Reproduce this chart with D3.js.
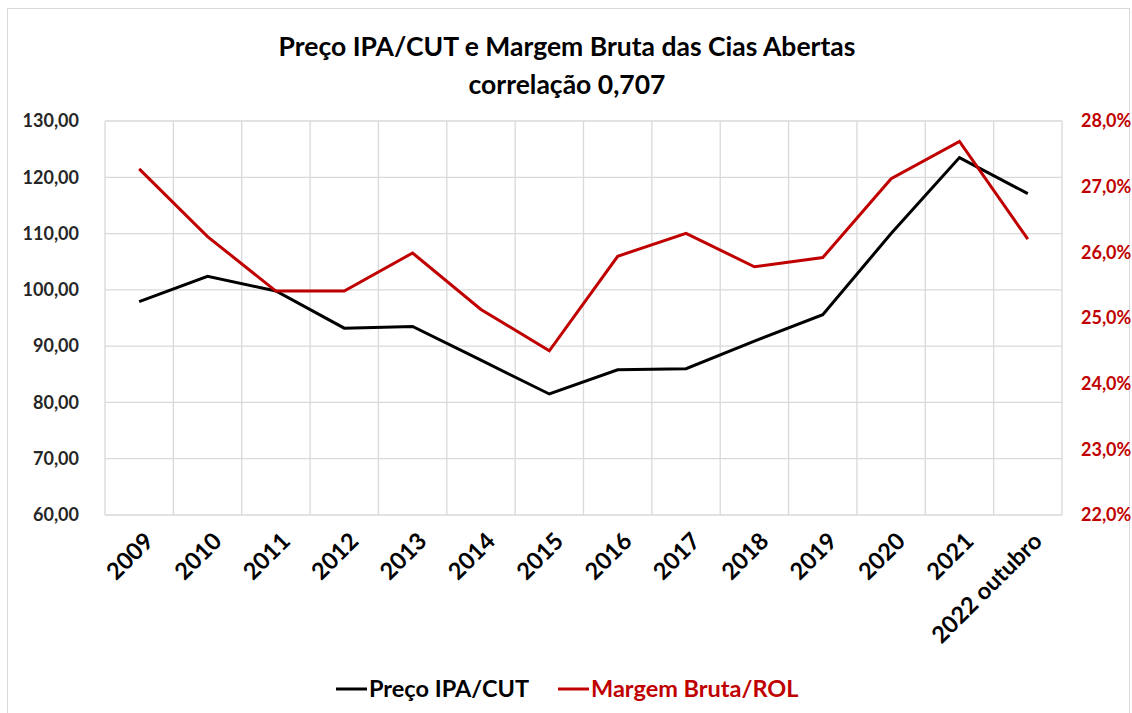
<!DOCTYPE html>
<html>
<head>
<meta charset="utf-8">
<script src="https://d3js.org/d3.v7.min.js"></script>
<style>
  body { margin: 0; background: #fff; }
  text { font-family: Lato, "Open Sans", sans-serif; font-weight: bold; }
</style>
</head>
<body>
<script>
// categories and series
var years = ["2009", "2010", "2011", "2012", "2013", "2014", "2015", "2016", "2017", "2018", "2019", "2020", "2021", "2022 outubro"];
var preco = [97.9, 102.4, 99.8, 93.2, 93.5, 87.5, 81.5, 85.8, 86.0, 90.9, 95.6, 110.0, 123.5, 117.1];
var margem = [27.27, 26.24, 25.41, 25.41, 25.99, 25.13, 24.50, 25.94, 26.29, 25.78, 25.92, 27.12, 27.69, 26.20];
var leftTicks = [60, 70, 80, 90, 100, 110, 120, 130];
var rightTicks = [22, 23, 24, 25, 26, 27, 28];

var W = 1132, H = 713;
var pLeft = 105, pRight = 1062, pTop = 121, pBottom = 515;
var red = "#c00000";

var svg = d3.select("body").append("svg")
  .attr("width", W)
  .attr("height", H);

// chart frame
svg.append("rect")
  .attr("x", 7.5).attr("y", 8.5)
  .attr("width", 1122).attr("height", 730)
  .attr("fill", "none")
  .attr("stroke", "#d9d9d9");

var x = d3.scaleBand().domain(years).range([pLeft, pRight]);
var yL = d3.scaleLinear().domain([60, 130]).range([pBottom, pTop]);
var yR = d3.scaleLinear().domain([22, 28]).range([pBottom, pTop]);

var fmtL = function(d) { return d3.format(".2f")(d).replace(".", ","); };
var fmtR = function(d) { return d3.format(".1f")(d).replace(".", ",") + "%"; };

// horizontal grid
svg.append("g").selectAll("line")
  .data(leftTicks)
  .enter().append("line")
  .attr("x1", pLeft).attr("x2", pRight)
  .attr("y1", function(d) { return yL(d); })
  .attr("y2", function(d) { return yL(d); })
  .attr("stroke", "#d9d9d9").attr("stroke-width", 1.3);

// vertical grid at category edges
var edges = years.map(function(d) { return x(d); }).concat([pRight]);
svg.append("g").selectAll("line")
  .data(edges)
  .enter().append("line")
  .attr("x1", function(d) { return d; })
  .attr("x2", function(d) { return d; })
  .attr("y1", pTop).attr("y2", pBottom)
  .attr("stroke", "#d9d9d9").attr("stroke-width", 1.3);

// left axis
var axL = svg.append("g")
  .attr("transform", "translate(" + (pLeft - 23) + ",0)")
  .call(d3.axisLeft(yL).tickValues(leftTicks).tickFormat(fmtL).tickSize(0));
axL.select(".domain").remove();
axL.selectAll("text").attr("font-size", 18).attr("fill", "#262626");

// right axis
var axR = svg.append("g")
  .attr("transform", "translate(" + (pRight + 16) + ",0)")
  .call(d3.axisRight(yR).tickValues(rightTicks).tickFormat(fmtR).tickSize(0));
axR.select(".domain").remove();
axR.selectAll("text").attr("font-size", 18).attr("fill", red);

// x labels, rotated
svg.append("g").selectAll("text")
  .data(years)
  .enter().append("text")
  .attr("transform", function(d) {
    return "translate(" + (x(d) + x.bandwidth() / 2 + 4) + "," + (pBottom + 16) + ") rotate(-45)";
  })
  .attr("text-anchor", "end")
  .attr("dy", "0.7em")
  .attr("font-size", 23.5)
  .attr("fill", "#000")
  .text(function(d) { return d; });

var cx = function(d, i) { return x(years[i]) + x.bandwidth() / 2; };

var lineL = d3.line().x(cx).y(function(d) { return yL(d); });
var lineR = d3.line().x(cx).y(function(d) { return yR(d); });

svg.append("path")
  .datum(preco)
  .attr("d", lineL)
  .attr("fill", "none")
  .attr("stroke", "#000")
  .attr("stroke-width", 3);

svg.append("path")
  .datum(margem)
  .attr("d", lineR)
  .attr("fill", "none")
  .attr("stroke", red)
  .attr("stroke-width", 3);

// title
svg.append("text")
  .attr("x", 567).attr("y", 56)
  .attr("text-anchor", "middle")
  .attr("font-size", 26.5)
  .attr("fill", "#000")
  .text("Preço IPA/CUT e Margem Bruta das Cias Abertas");
svg.append("text")
  .attr("x", 567).attr("y", 94)
  .attr("text-anchor", "middle")
  .attr("font-size", 26.5)
  .attr("fill", "#000")
  .text("correlação 0,707");

// legend
var legend = [
  { name: "Preço IPA/CUT", color: "#000", x: 336 },
  { name: "Margem Bruta/ROL", color: red, x: 558 }
];
var lg = svg.append("g").selectAll("g")
  .data(legend)
  .enter().append("g")
  .attr("transform", function(d) { return "translate(" + d.x + ",689)"; });
lg.append("line")
  .attr("x1", 0).attr("x2", 31)
  .attr("stroke", function(d) { return d.color; })
  .attr("stroke-width", 3);
lg.append("text")
  .attr("x", 33).attr("dy", "0.35em")
  .attr("font-size", 23.5)
  .attr("fill", function(d) { return d.color; })
  .text(function(d) { return d.name; });
</script>
</body>
</html>
